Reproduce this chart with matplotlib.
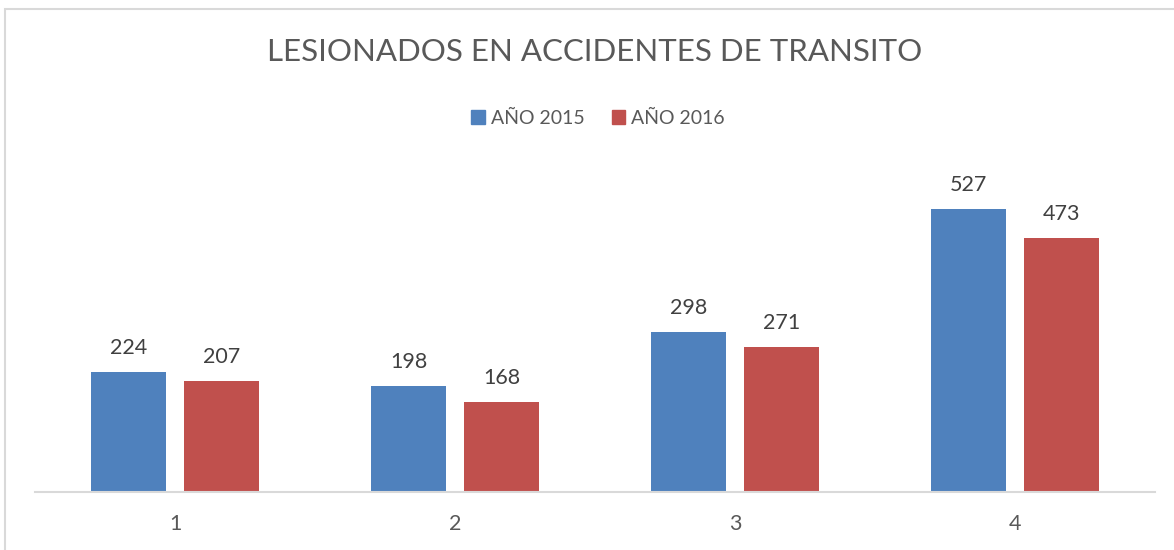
import numpy as np
import matplotlib
matplotlib.use('Agg')
import matplotlib.pyplot as plt
from matplotlib.patches import Rectangle, Patch

# datos
categorias = ['1', '2', '3', '4']
anio_2015 = [224, 198, 298, 527]
anio_2016 = [207, 168, 271, 473]
series = ['AÑO 2015', 'AÑO 2016']

azul = '#4F81BD'
rojo = '#C0504D'
gris = '#595959'

plt.rcParams['font.family'] = ['Lato', 'DejaVu Sans']

fig = plt.figure(figsize=(11.74, 5.5), dpi=100)
ax = fig.add_axes([35/1174, 1-492/550, 1120/1174, 322/550])

x = np.arange(len(categorias))
w = 0.268
off = 0.166
b1 = ax.bar(x - off, anio_2015, w, color=azul)
b2 = ax.bar(x + off, anio_2016, w, color=rojo)

for bars, vals in [(b1, anio_2015), (b2, anio_2016)]:
    for b, v in zip(bars, vals):
        ax.annotate(str(v), (b.get_x() + b.get_width()/2, v),
                    xytext=(0, 17.3), textcoords='offset points',
                    ha='center', va='center', fontsize=15.5, color='#404040')

ax.set_xlim(-0.5, 3.5)
ax.set_ylim(0, 600)
ax.set_xticks(x)
ax.set_xticklabels(categorias)
ax.set_yticks([])
ax.tick_params(axis='x', length=0, pad=16, labelsize=15.5, labelcolor=gris)
for s in ['top', 'right', 'left']:
    ax.spines[s].set_visible(False)
ax.spines['bottom'].set_color('#D9D9D9')
ax.spines['bottom'].set_linewidth(1.5)

fig.text(595/1174, 1-52/550, 'LESIONADOS EN ACCIDENTES DE TRANSITO',
         ha='center', va='center', fontsize=22.5, color=gris)

handles = [Patch(color=azul, label=series[0]), Patch(color=rojo, label=series[1])]
fig.legend(handles=handles, loc='center', bbox_to_anchor=(598/1174, 1-118/550),
           ncol=2, frameon=False, fontsize=14, labelcolor=gris,
           handlelength=0.7, handleheight=0.7, handletextpad=0.3,
           columnspacing=1.4)

# marco del grafico
fig.patches.append(Rectangle((5/1174, -0.1), 1.2, 1 - 9/550 + 0.1,
                             transform=fig.transFigure, fill=False,
                             edgecolor='#D9D9D9', linewidth=1.5))

fig.savefig('out.png', dpi=100)
